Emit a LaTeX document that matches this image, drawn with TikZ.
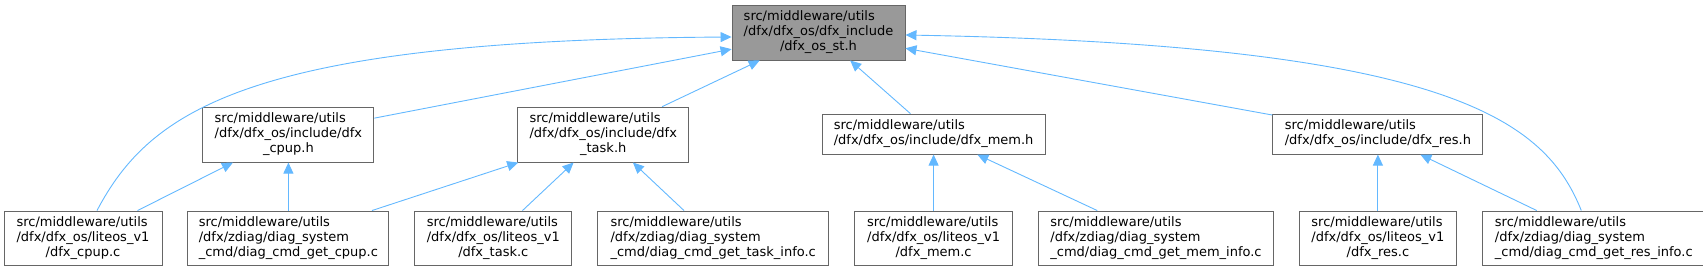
\documentclass[tikz,border=0pt]{standalone}
\usepackage{fontspec}
\setmainfont{DejaVu Sans}
\usetikzlibrary{arrows.meta, positioning, calc}
\definecolor{edgeblue}{RGB}{99,184,255}
\definecolor{rootgray}{RGB}{153,153,153}
\definecolor{boxline}{RGB}{102,102,102}
% Labels: leading lines left, last line centred
\newcommand{\inclabel}[3]{\begin{tabular}{@{}l@{}}#1\\#2\\\multicolumn{1}{@{}c@{}}{#3}\end{tabular}}
\newcommand{\inclabelii}[2]{\begin{tabular}{@{}l@{}}#1\\#2\end{tabular}}
\tikzset{
  % File box (parameterized by width)
  filebox/.style={
    rectangle, draw=boxline, fill=white, line width=0.9pt, inner sep=0pt,
    font=\fontsize{13}{15}\selectfont, minimum width=#1, minimum height=54pt
  },
  % Header box, three lines
  headbox/.style={filebox=#1, minimum height=55pt},
  % Header box, two lines
  flatbox/.style={filebox=#1, minimum height=40pt},
  rootbox/.style={headbox=#1, fill=rootgray},
  incarrow/.style={-{Triangle[length=11pt, width=10pt]}, draw=edgeblue, line width=0.9pt}
}
\begin{document}
\begin{tikzpicture}[x=1pt, y=-1pt, node distance=25pt]
  \useasboundingbox (0,0) rectangle (1703,271);

  % Root header
  \node[rootbox=173pt] (root) at (818.5,32.5)
    {\inclabel{src/middleware/utils}{/dfx/dfx\_os/dfx\_include}{/dfx\_os\_st.h}};

  % Source files
  \node[filebox=158pt] (cpupc) at (83,238)
    {\inclabel{src/middleware/utils}{/dfx/dfx\_os/liteos\_v1}{/dfx\_cpup.c}};
  \node[filebox=201pt, right=of cpupc] (getcpup)
    {\inclabel{src/middleware/utils}{/dfx/zdiag/diag\_system}{\_cmd/diag\_cmd\_get\_cpup.c}};
  \node[filebox=157pt, right=of getcpup] (taskc)
    {\inclabel{src/middleware/utils}{/dfx/dfx\_os/liteos\_v1}{/dfx\_task.c}};
  \node[filebox=231pt, right=of taskc] (gettask)
    {\inclabel{src/middleware/utils}{/dfx/zdiag/diag\_system}{\_cmd/diag\_cmd\_get\_task\_info.c}};
  \node[filebox=158pt, right=of gettask] (memc)
    {\inclabel{src/middleware/utils}{/dfx/dfx\_os/liteos\_v1}{/dfx\_mem.c}};
  \node[filebox=235pt, right=of memc] (getmem)
    {\inclabel{src/middleware/utils}{/dfx/zdiag/diag\_system}{\_cmd/diag\_cmd\_get\_mem\_info.c}};
  \node[filebox=157pt, right=of getmem] (resc)
    {\inclabel{src/middleware/utils}{/dfx/dfx\_os/liteos\_v1}{/dfx\_res.c}};
  \node[filebox=223pt, right=of resc] (getres)
    {\inclabel{src/middleware/utils}{/dfx/zdiag/diag\_system}{\_cmd/diag\_cmd\_get\_res\_info.c}};

  % Intermediate headers
  \coordinate (taskmid) at ($(taskc.north)!0.5!(gettask.north)$);
  \node[headbox=171pt, above=48pt of getcpup] (cpuph)
    {\inclabel{src/middleware/utils}{/dfx/dfx\_os/include/dfx}{\_cpup.h}};
  \node[headbox=171pt, above=48pt of taskmid] (taskh)
    {\inclabel{src/middleware/utils}{/dfx/dfx\_os/include/dfx}{\_task.h}};
  \node[flatbox=223pt, above=56pt of memc] (memh)
    {\inclabelii{src/middleware/utils}{/dfx/dfx\_os/include/dfx\_mem.h}};
  \node[flatbox=210pt, above=56pt of resc] (resh)
    {\inclabelii{src/middleware/utils}{/dfx/dfx\_os/include/dfx\_res.h}};

  % Includes of the root header
  \draw[incarrow] ([xshift=14pt]cpupc.north) .. controls (150,110) and (250,40) .. ([yshift=-4.5pt]root.west);
  \draw[incarrow] (cpuph) -- (root);
  \draw[incarrow] (taskh) -- (root);
  \draw[incarrow] (memh) -- (root);
  \draw[incarrow] (resh) -- (root);
  \draw[incarrow] ([xshift=-12.5pt]getres.north) .. controls (1545,120) and (1450,45) .. ([yshift=-2.5pt]root.east);

  % Includes of the intermediate headers
  \draw[incarrow] (cpupc) -- (cpuph);
  \draw[incarrow] (getcpup) -- (cpuph);
  \draw[incarrow] (getcpup) -- (taskh);
  \draw[incarrow] (taskc) -- (taskh);
  \draw[incarrow] (gettask) -- (taskh);
  \draw[incarrow] (memc) -- (memh);
  \draw[incarrow] (getmem) -- (memh);
  \draw[incarrow] (resc) -- (resh);
  \draw[incarrow] (getres) -- (resh);
\end{tikzpicture}
\end{document}
